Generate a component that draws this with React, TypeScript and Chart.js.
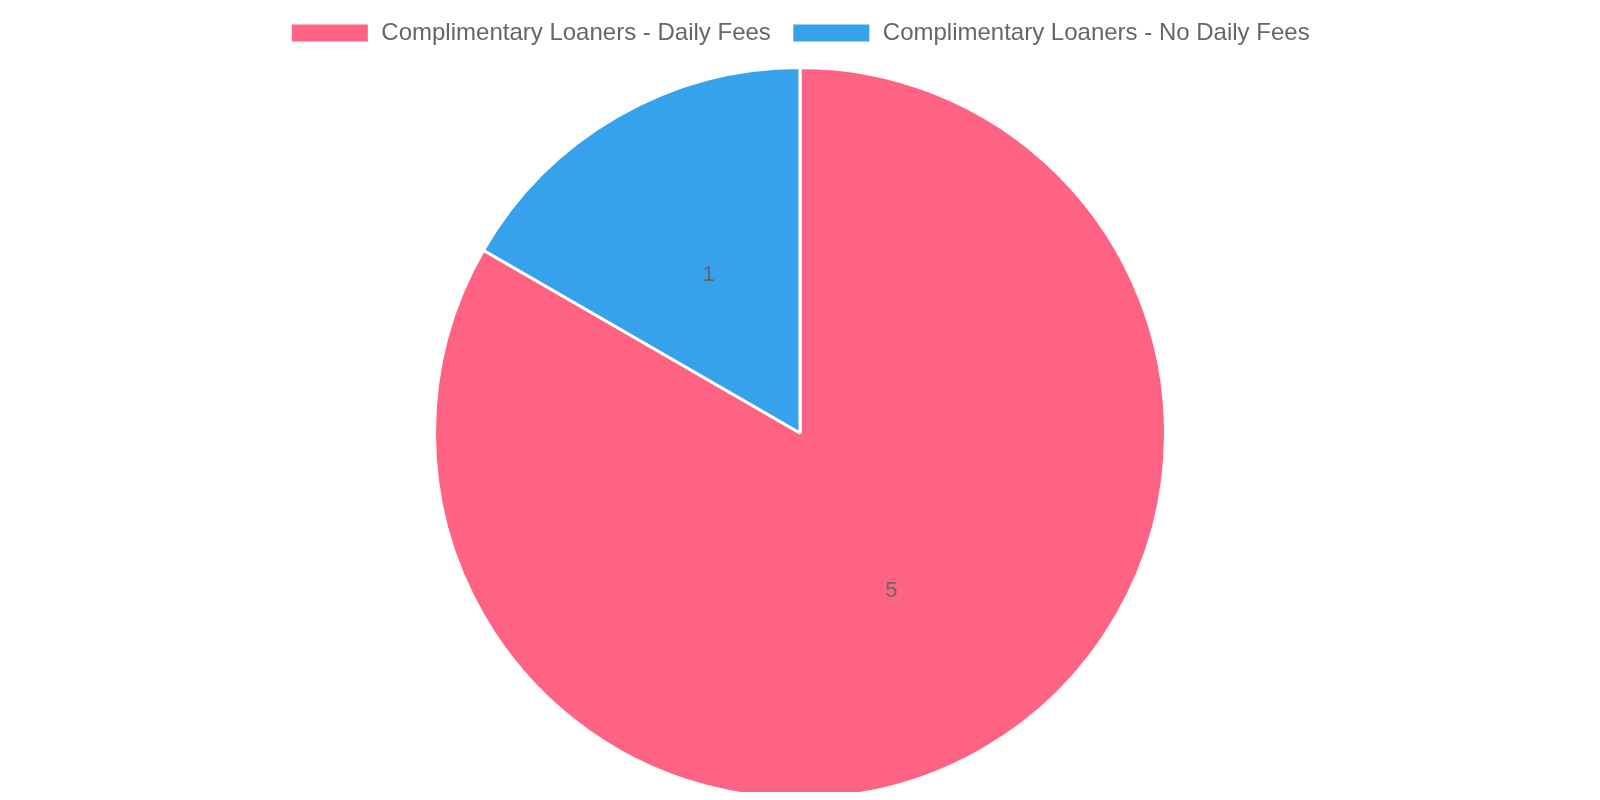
import React, { useEffect, useRef } from 'react';
import { Chart, registerables, Plugin } from 'chart.js';

Chart.register(...registerables);

const labels = ['Complimentary Loaners - Daily Fees', 'Complimentary Loaners - No Daily Fees'];
const values = [5, 1];
const colors = ['#ff6384', '#36a2eb'];

// draws each slice's value in the middle of the slice
const sliceValues: Plugin<'pie'> = {
  id: 'sliceValues',
  afterDatasetsDraw(chart) {
    const ctx = chart.ctx;
    const meta = chart.getDatasetMeta(0);
    ctx.save();
    ctx.font = '22px "Liberation Sans", Arial, sans-serif';
    ctx.fillStyle = '#666';
    ctx.textAlign = 'center';
    ctx.textBaseline = 'middle';
    meta.data.forEach((arc, i) => {
      const pos = arc.tooltipPosition(false);
      ctx.fillText(String(values[i]), pos.x, pos.y);
    });
    ctx.restore();
  },
};

// a bit of extra room under the legend
const legendGap: Plugin<'pie'> = {
  id: 'legendGap',
  beforeInit(chart: any) {
    const origFit = chart.legend.fit;
    chart.legend.fit = function fit() {
      origFit.bind(chart.legend)();
      this.height += 11;
    };
  },
};

const App: React.FC = () => {
  const canvasRef = useRef<HTMLCanvasElement | null>(null);
  const chartRef = useRef<Chart<'pie'> | null>(null);

  useEffect(() => {
    if (!canvasRef.current) return;
    if (chartRef.current) {
      chartRef.current.destroy();
      chartRef.current = null;
    }
    chartRef.current = new Chart(canvasRef.current, {
      type: 'pie',
      data: {
        labels,
        datasets: [
          {
            data: values,
            backgroundColor: colors,
            borderColor: '#fff',
            borderWidth: 3,
          },
        ],
      },
      options: {
        animation: false,
        responsive: true,
        maintainAspectRatio: false,
        plugins: {
          legend: {
            position: 'top',
            labels: {
              color: '#666',
              boxWidth: 79,
              boxHeight: 20,
              padding: 21,
              font: { family: '"Liberation Sans", Arial, sans-serif', size: 24 },
            },
          },
          tooltip: { enabled: false },
        },
      },
      plugins: [legendGap, sliceValues],
    });
    return () => {
      if (chartRef.current) {
        chartRef.current.destroy();
        chartRef.current = null;
      }
    };
  }, []);

  return (
    <div style={{ margin: -8, width: 1600, height: 800 }}>
      <canvas ref={canvasRef}></canvas>
    </div>
  );
};

export default App;
